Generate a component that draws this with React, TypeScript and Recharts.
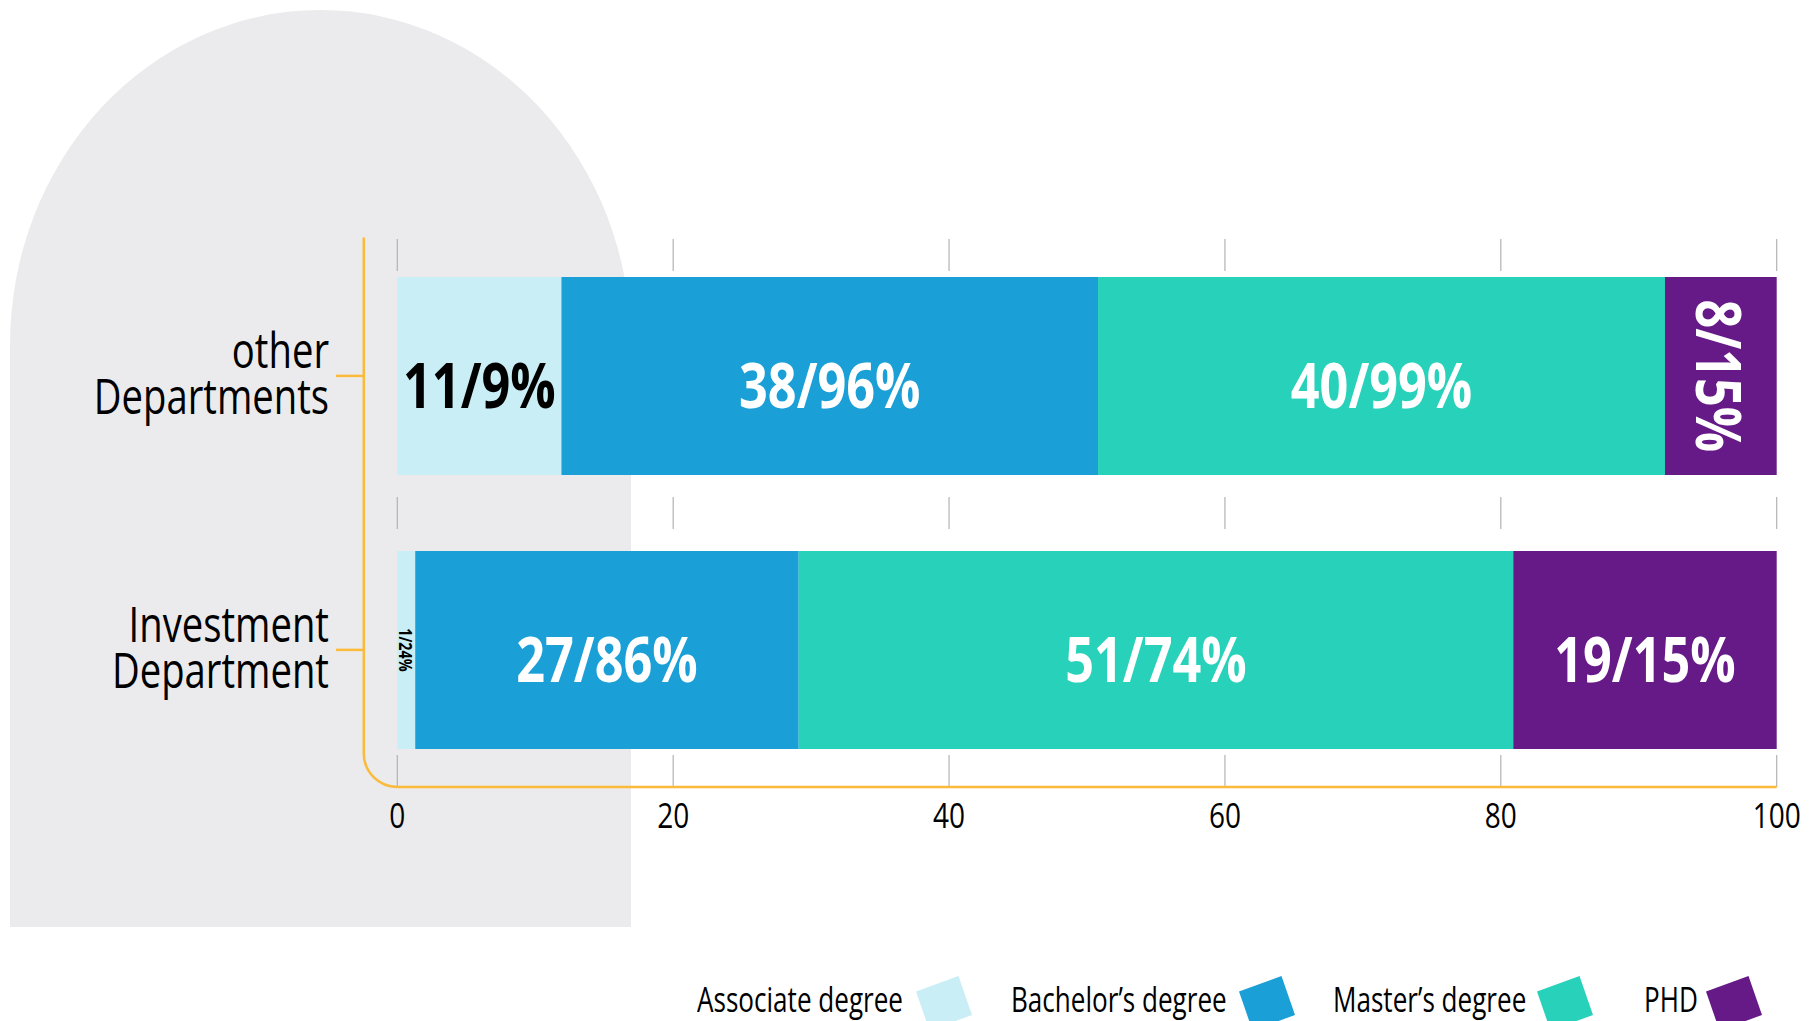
import React from 'react';
import { BarChart, Bar, XAxis, YAxis, CartesianGrid, LabelList, Legend } from 'recharts';

const categories = ['other Departments', 'Investment Department'];
const associateValues = [11.9, 1.3];
const bachelorValues = [38.9, 27.8];
const masterValues = [41.1, 51.8];
const phdValues = [8.1, 19.1];
const associateLabels = ['11/9%', '1/24%'];
const bachelorLabels = ['38/96%', '27/86%'];
const masterLabels = ['40/99%', '51/74%'];
const phdLabels = ['8/15%', '19/15%'];
const xTicks = [0, 20, 40, 60, 80, 100];
const seriesNames = ['Associate degree', 'Bachelor\u2019s degree', 'Master\u2019s degree', 'PHD'];

const FONT = "'Open Sans', 'Noto Sans', sans-serif";
const ORANGE = '#FBBA3A';
const SX_BOLD = 0.8;
const SX_REG = 0.78;

const series = [
  { key: 'associate', name: seriesNames[0], color: '#C9EEF5', labels: associateLabels, labelColor: '#000000' },
  { key: 'bachelor', name: seriesNames[1], color: '#1A9FD6', labels: bachelorLabels, labelColor: '#FFFFFF' },
  { key: 'master', name: seriesNames[2], color: '#27D1BA', labels: masterLabels, labelColor: '#FFFFFF' },
  { key: 'phd', name: seriesNames[3], color: '#661A87', labels: phdLabels, labelColor: '#FFFFFF' },
];

const data = categories.map((name, i) => ({
  name,
  associate: associateValues[i],
  bachelor: bachelorValues[i],
  master: masterValues[i],
  phd: phdValues[i],
}));

const makeLabel = (labels: string[], color: string) => (props: any) => {
  const { x, y, width, height, index } = props;
  const text = labels[index];
  if (!text) return null;
  const w = Number(width);
  const cx = Number(x) + w / 2;
  const cy = Number(y) + Number(height) / 2;
  const est = text.length * 0.47 * 63;
  if (est > w) {
    const fs = Math.min(63, w);
    return (
      <text
        transform={`translate(${cx},${cy}) rotate(90) scale(${SX_BOLD},1)`}
        x={0}
        y={fs * 0.4}
        textAnchor="middle"
        fontSize={fs}
        fontWeight="bold"
        fill={color}
        fontFamily={FONT}
      >
        {text}
      </text>
    );
  }
  return (
    <text
      transform={`translate(${cx},${cy + 32}) scale(${SX_BOLD},1)`}
      x={0}
      y={0}
      textAnchor="middle"
      fontSize={63}
      fontWeight="bold"
      fill={color}
      fontFamily={FONT}
    >
      {text}
    </text>
  );
};

const YTick = (props: any) => {
  const { x, y, payload } = props;
  const words = String(payload.value).split(' ');
  const tx = x - 68.3;
  return (
    <g>
      <line x1={x - 61.3} x2={x - 33.5} y1={y} y2={y} stroke={ORANGE} strokeWidth={2.5} />
      <text transform={`translate(${tx},${y}) scale(${SX_REG},1)`} textAnchor="end" fontSize={49} fontFamily={FONT} fill="#000">
        <tspan x={0} dy={-8}>{words[0]}</tspan>
        <tspan x={0} dy={46}>{words.slice(1).join(' ')}</tspan>
      </text>
    </g>
  );
};

const XTick = (props: any) => {
  const { x, y, payload } = props;
  return (
    <text transform={`translate(${x},${y}) scale(0.8,1)`} textAnchor="middle" dy="0.72em" fontSize={35} fontFamily={FONT} fill="#000">
      {payload.value}
    </text>
  );
};

const AxisCorner = (props: any) => {
  const vb = props.viewBox || {};
  const r = 33.5;
  const right = vb.x + vb.width;
  const lx = right - r;
  const top = vb.y;
  const bottom = vb.y + vb.height;
  return (
    <path
      d={`M ${lx} ${top - 1.5} L ${lx} ${bottom - r} A ${r} ${r} 0 0 0 ${right} ${bottom}`}
      fill="none"
      stroke={ORANGE}
      strokeWidth={2.5}
    />
  );
};

const legendTextLeft = [0, 313.6, 636, 947];
const legendIconLeft = [219, 541.7, 840, 1008.7];

const LegendContent = () => (
  <div style={{ position: 'relative', width: 1116, height: 60, fontFamily: FONT }}>
    {series.map((s, i) => (
      <React.Fragment key={s.key}>
        <span
          style={{
            position: 'absolute',
            left: legendTextLeft[i],
            top: 0,
            fontSize: 35,
            lineHeight: '35px',
            marginTop: 5,
            color: '#000',
            whiteSpace: 'nowrap',
            transform: 'scaleX(0.745)',
            transformOrigin: '0 0',
          }}
        >
          {s.name}
        </span>
        <svg width={57} height={56} style={{ position: 'absolute', left: legendIconLeft[i], top: 0, display: 'block' }}>
          <polygon points="0,15.5 42.5,0 56,39 13.5,54.5" fill={s.color} />
        </svg>
      </React.Fragment>
    ))}
  </div>
);

export default function App() {
  return (
    <div style={{ position: 'absolute', left: 0, top: 0, width: 1813, height: 1021, overflow: 'hidden', background: '#fff' }}>
      <svg style={{ position: 'absolute', left: 0, top: 0 }} width={1813} height={1021}>
        <path d="M 10 927 L 10 345 A 310.5 335 0 0 1 631 345 L 631 927 Z" fill="#EBEBED" />
      </svg>
      <div style={{ position: 'absolute', left: 0, top: 0 }}>
        <BarChart
          width={1813}
          height={1021}
          data={data}
          layout="vertical"
          margin={{ top: 238.9, right: 36.3, bottom: 174.1, left: 0 }}
          barSize={198}
        >
          <CartesianGrid horizontal={false} vertical={true} stroke="#B3B3B3" strokeWidth={1.2} strokeDasharray="32 226" />
          <XAxis
            type="number"
            domain={[0, 100]}
            ticks={xTicks}
            height={60}
            axisLine={{ stroke: ORANGE, strokeWidth: 2.5 }}
            tickLine={false}
            tickSize={0}
            tickMargin={16}
            tick={<XTick />}
          />
          <YAxis
            type="category"
            dataKey="name"
            width={397.3}
            axisLine={false}
            tickLine={false}
            tickSize={0}
            tickMargin={0}
            tick={<YTick />}
            label={{ content: AxisCorner }}
          />
          {series.map((s) => (
            <Bar key={s.key} dataKey={s.key} name={s.name} stackId="a" fill={s.color} isAnimationActive={false}>
              <LabelList dataKey={s.key} content={makeLabel(s.labels, s.labelColor)} />
            </Bar>
          ))}
          <Legend
            content={<LegendContent />}
            layout="horizontal"
            verticalAlign="middle"
            align="center"
            wrapperStyle={{ top: 976, left: 697, width: 1116, height: 60 }}
          />
        </BarChart>
      </div>
    </div>
  );
}
